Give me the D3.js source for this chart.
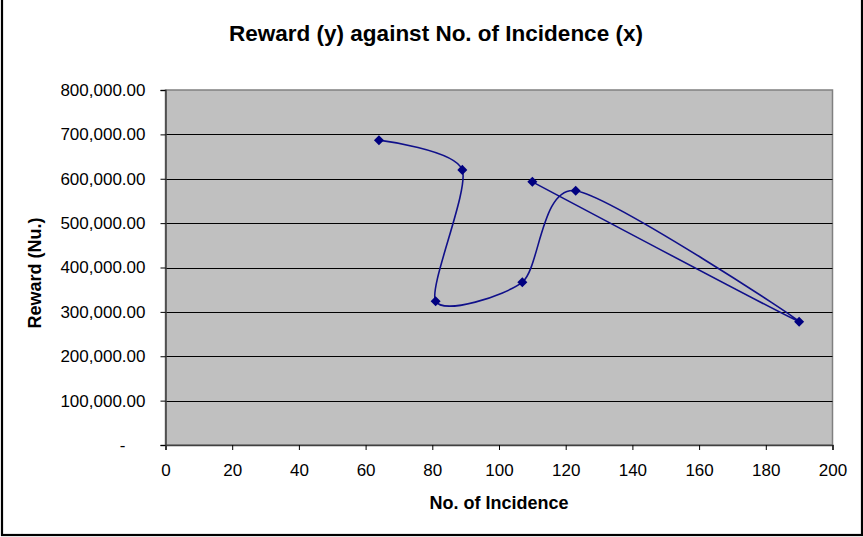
<!DOCTYPE html>
<html>
<head>
	<title>Reward against No. of Incidence</title>
	<script src="https://d3js.org/d3.v7.min.js"></script>
	<style type="text/css">
		body { margin: 0; background: #fff; }
		svg { display: block; font-family: Arial, "Liberation Sans", sans-serif; }
	</style>
</head>
<body>
	<svg width="863" height="537"></svg>

<script type="text/javascript">
	// data, in drawing order
	const incidence = [64, 89, 81, 107, 123, 190, 110];
	const reward = [687000, 620000, 324000, 367000, 573000, 278000, 593000];

	const xTicks = [0, 20, 40, 60, 80, 100, 120, 140, 160, 180, 200];
	const yTicks = [0, 100000, 200000, 300000, 400000, 500000, 600000, 700000, 800000];
	const yTickLabels = ["-", "100,000.00", "200,000.00", "300,000.00", "400,000.00",
		"500,000.00", "600,000.00", "700,000.00", "800,000.00"];

	const svg = d3.select("svg");
	const plot = {left: 165.5, right: 832.5, top: 90, bottom: 445};

	const xscale = d3.scaleLinear().domain([0, 200]).range([plot.left, plot.right]);
	const yscale = d3.scaleLinear().domain([0, 800000]).range([plot.bottom, plot.top]);

	// outer chart border
	svg.append("rect")
		.attr("x", 2).attr("y", -3).attr("width", 860).attr("height", 538)
		.attr("fill", "none").attr("stroke", "#000").attr("stroke-width", 2.2);

	// plot area
	svg.append("rect")
		.attr("x", plot.left).attr("y", plot.top)
		.attr("width", plot.right - plot.left).attr("height", plot.bottom - plot.top)
		.attr("fill", "#c0c0c0").attr("stroke", "#808080").attr("stroke-width", 1.5);

	// gridlines
	svg.append("g").selectAll("line")
		.data(yTicks.filter(d => d > 0 && d < 800000))
		.enter().append("line")
		.attr("x1", plot.left).attr("x2", plot.right)
		.attr("y1", d => Math.round(yscale(d)) + 0.5).attr("y2", d => Math.round(yscale(d)) + 0.5)
		.attr("stroke", "#000").attr("stroke-width", 1.2);

	// axes
	const xAxis = d3.axisBottom(xscale).tickValues(xTicks).tickSize(5).tickPadding(14);
	const yAxis = d3.axisLeft(yscale).tickValues(yTicks).tickSize(5).tickPadding(15)
		.tickFormat((d, i) => yTickLabels[i]);

	const gx = svg.append("g").attr("transform", "translate(0," + plot.bottom + ")").call(xAxis);
	const gy = svg.append("g").attr("transform", "translate(" + plot.left + ",0)").call(yAxis);

	[gx, gy].forEach(g => {
		g.select(".domain").attr("stroke", "#404040").attr("stroke-width", 1.5);
		g.selectAll(".tick line").attr("stroke", "#000");
		g.selectAll(".tick text").attr("fill", "#000").style("font-size", "17px");
	});
	gy.selectAll(".tick text").filter(d => d === 0).attr("dx", "-20px");

	// smoothed line + markers
	const pts = incidence.map((x, i) => [x, reward[i]]);
	const line = d3.line()
		.x(d => xscale(d[0]))
		.y(d => yscale(d[1]))
		.curve(d3.curveCardinal.tension(0.25));

	svg.append("path")
		.attr("d", line(pts))
		.attr("fill", "none").attr("stroke", "#10108a").attr("stroke-width", 1.6);

	svg.append("g").selectAll("path")
		.data(pts)
		.enter().append("path")
		.attr("d", d3.symbol().type(d3.symbolDiamond2).size(64))
		.attr("transform", d => "translate(" + xscale(d[0]) + "," + yscale(d[1]) + ")")
		.attr("fill", "#000080");

	// titles
	svg.append("text")
		.attr("x", 436).attr("y", 41)
		.attr("text-anchor", "middle")
		.style("font-size", "22.5px").style("font-weight", "bold")
		.text("Reward (y) against No. of Incidence (x)");

	svg.append("text")
		.attr("x", 499).attr("y", 509)
		.attr("text-anchor", "middle")
		.style("font-size", "18px").style("font-weight", "bold")
		.text("No. of Incidence");

	svg.append("text")
		.attr("transform", "translate(41,273) rotate(-90)")
		.attr("text-anchor", "middle")
		.style("font-size", "18px").style("font-weight", "bold")
		.text("Reward (Nu.)");
</script>
</body>
</html>
